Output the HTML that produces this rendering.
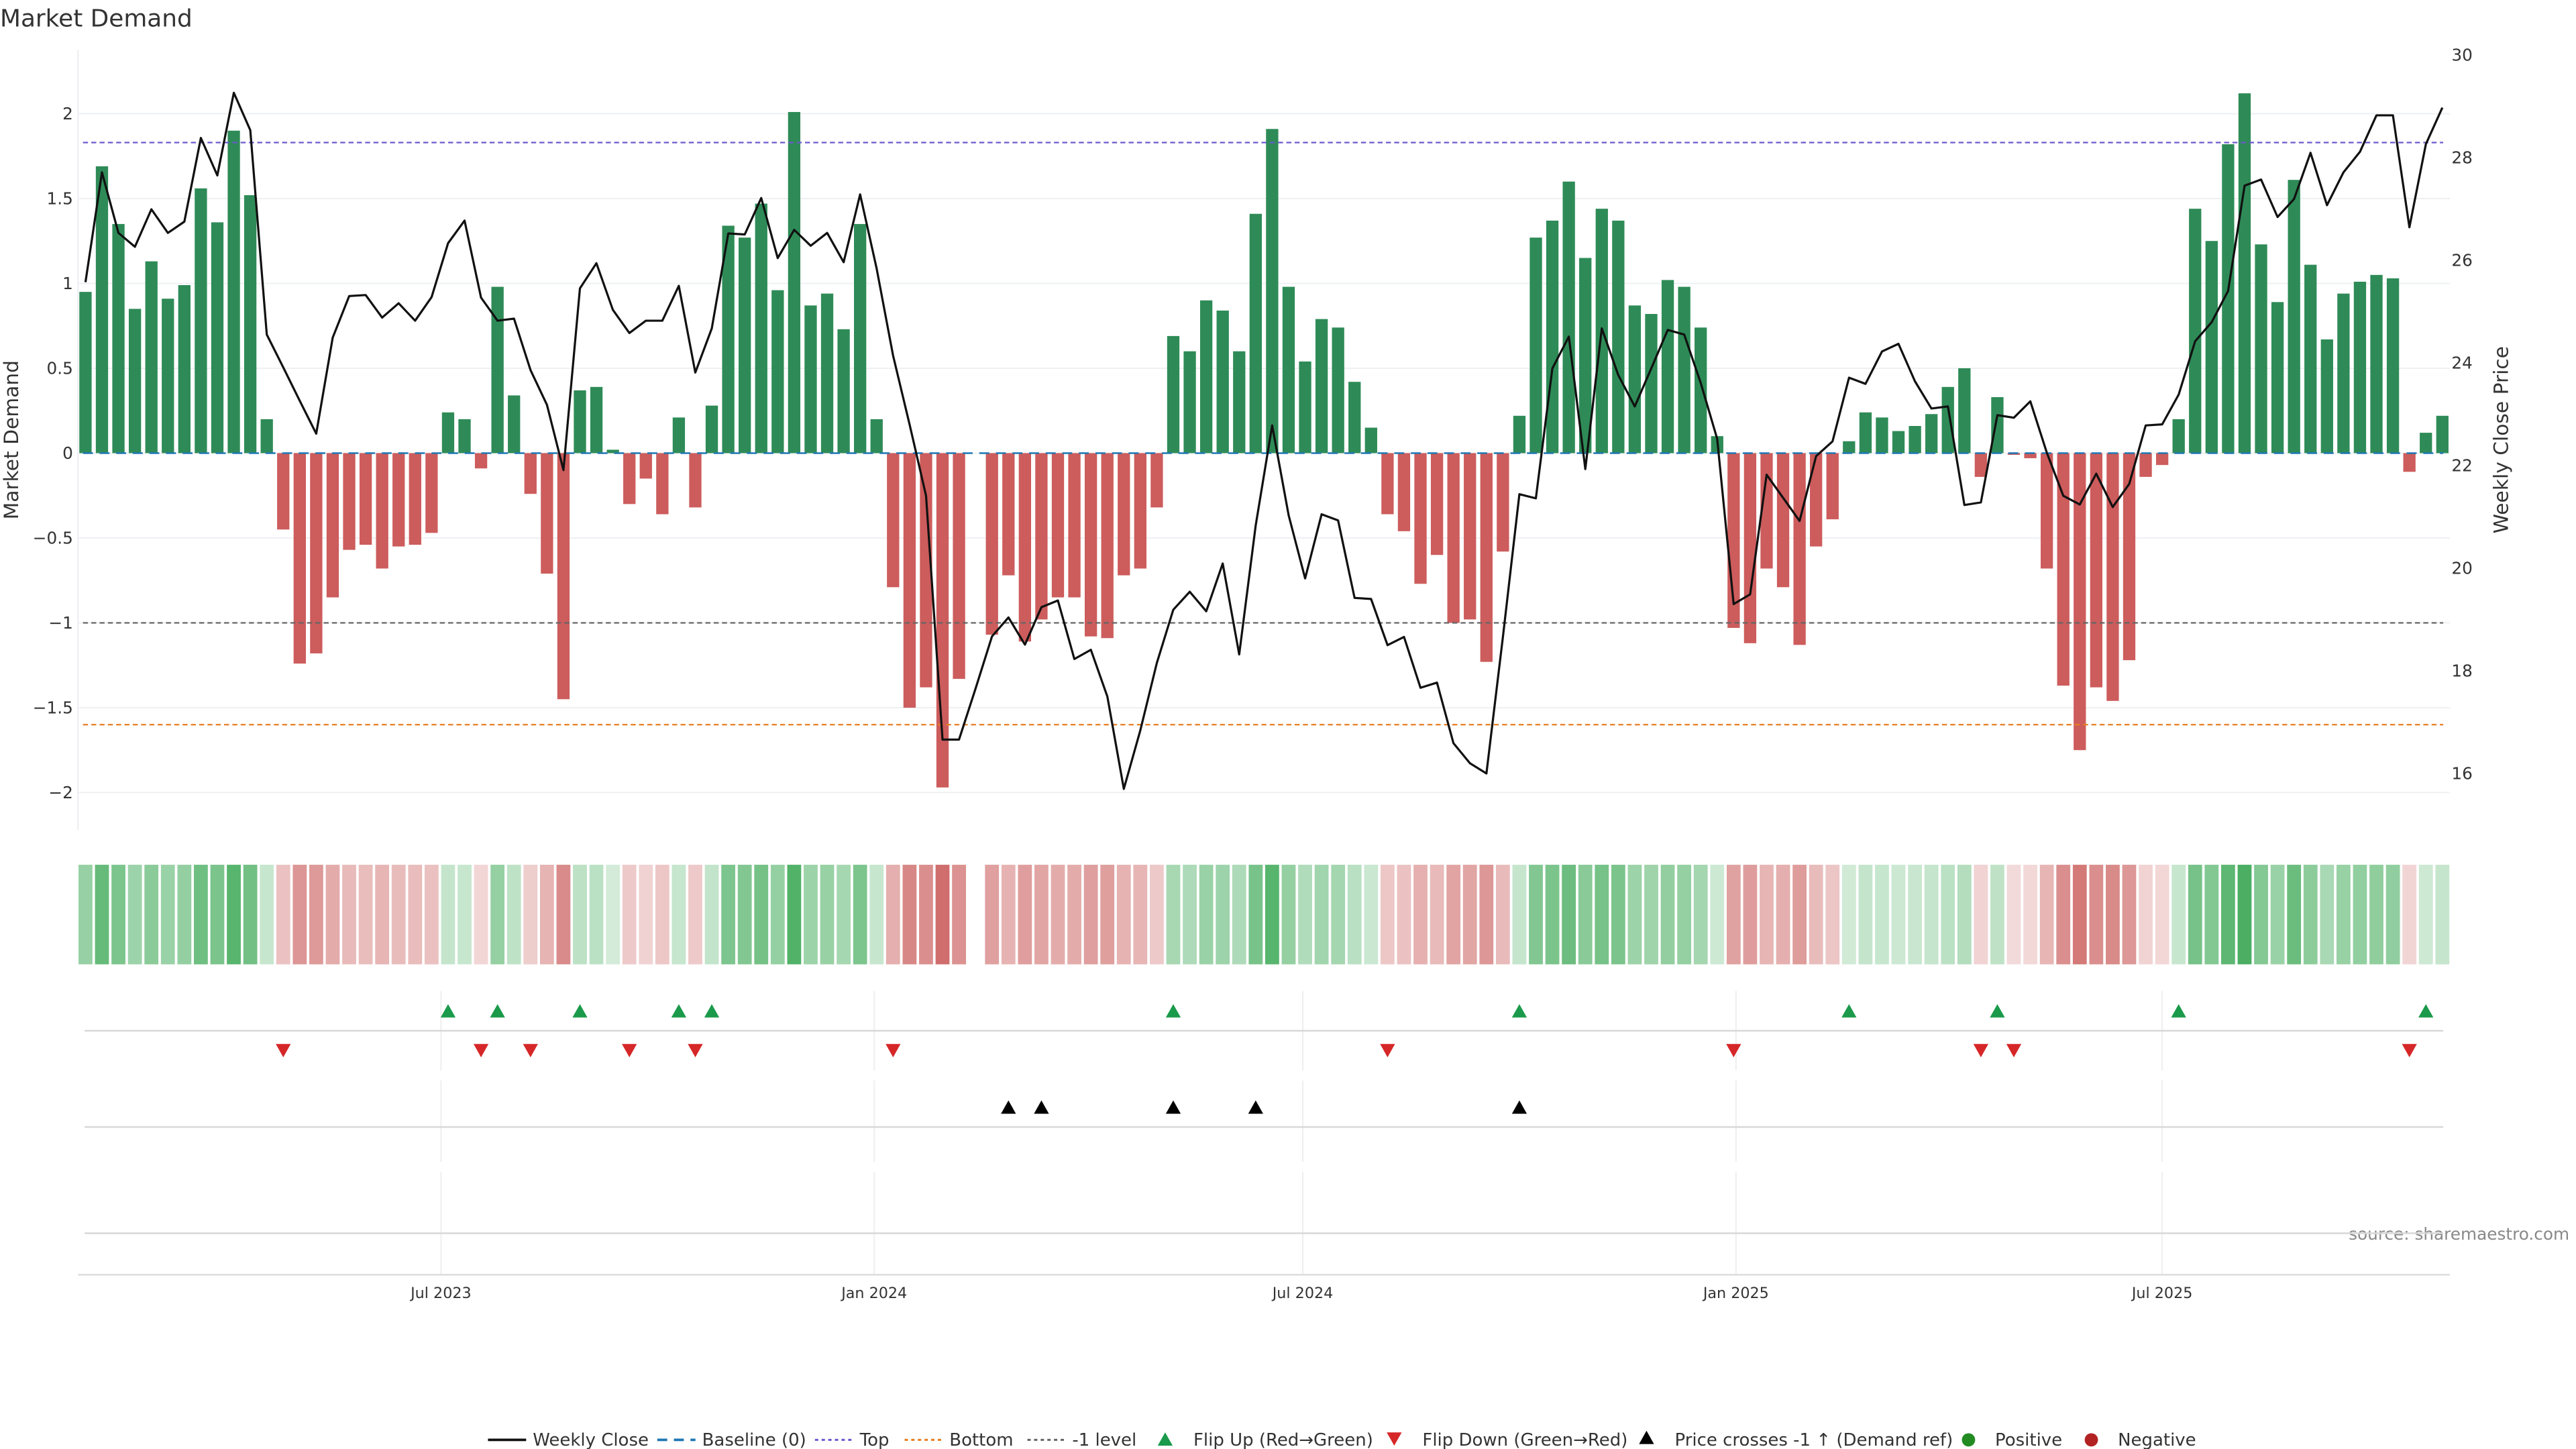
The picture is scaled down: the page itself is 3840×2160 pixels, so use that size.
<!DOCTYPE html>
<html><head><meta charset="utf-8"><title>Market Demand</title>
<style>
html,body{margin:0;padding:0;background:#fff;}
svg{display:block;font-family:"DejaVu Sans","Liberation Sans",sans-serif;}
</style></head>
<body>
<svg id="chart" width="3840" height="2160" viewBox="0 0 1552 873" xmlns="http://www.w3.org/2000/svg">
<text x="0" y="16" font-size="14.5" fill="#333">Market Demand</text>
<text transform="translate(11,265) rotate(-90)" text-anchor="middle" font-size="12" fill="#333">Market Demand</text>
<text transform="translate(1511,265) rotate(-90)" text-anchor="middle" font-size="12" fill="#333">Weekly Close Price</text>
<text x="1548" y="747" text-anchor="end" font-size="10" fill="#888">source: sharemaestro.com</text>
<g id="grid"></g><g id="heat"></g><g id="bars"></g><g id="refs"></g><g id="line"></g><g id="lanes"></g><g id="axes"></g><g id="legend"></g>
</svg>
<script>
const demand=[0.95,1.69,1.35,0.85,1.13,0.91,0.99,1.56,1.36,1.90,1.52,0.20,-0.45,-1.24,-1.18,-0.85,-0.57,-0.54,-0.68,-0.55,-0.54,-0.47,0.24,0.20,-0.09,0.98,0.34,-0.24,-0.71,-1.45,0.37,0.39,0.02,-0.30,-0.15,-0.36,0.21,-0.32,0.28,1.34,1.27,1.47,0.96,2.01,0.87,0.94,0.73,1.35,0.20,-0.79,-1.50,-1.38,-1.97,-1.33,null,-1.07,-0.72,-1.11,-0.98,-0.85,-0.85,-1.08,-1.09,-0.72,-0.68,-0.32,0.69,0.60,0.90,0.84,0.60,1.41,1.91,0.98,0.54,0.79,0.74,0.42,0.15,-0.36,-0.46,-0.77,-0.60,-1.00,-0.98,-1.23,-0.58,0.22,1.27,1.37,1.60,1.15,1.44,1.37,0.87,0.82,1.02,0.98,0.74,0.10,-1.03,-1.12,-0.68,-0.79,-1.13,-0.55,-0.39,0.07,0.24,0.21,0.13,0.16,0.23,0.39,0.50,-0.14,0.33,-0.01,-0.03,-0.68,-1.37,-1.75,-1.38,-1.46,-1.22,-0.14,-0.07,0.20,1.44,1.25,1.82,2.12,1.23,0.89,1.61,1.11,0.67,0.94,1.01,1.05,1.03,-0.11,0.12,0.22];
const close=[25.57,27.71,26.53,26.26,26.99,26.53,26.75,28.38,27.65,29.26,28.53,24.55,23.91,23.26,22.62,24.49,25.30,25.32,24.88,25.16,24.82,25.28,26.33,26.77,25.27,24.82,24.86,23.86,23.18,21.91,25.45,25.94,25.03,24.58,24.82,24.82,25.50,23.81,24.67,26.52,26.50,27.21,26.04,26.59,26.28,26.53,25.96,27.28,25.84,24.14,22.80,21.41,16.66,16.66,17.65,18.67,19.04,18.51,19.24,19.37,18.23,18.41,17.50,15.70,16.84,18.15,19.19,19.54,19.16,20.09,18.32,20.83,22.78,21.03,19.80,21.05,20.93,19.42,19.40,18.50,18.66,17.67,17.77,16.59,16.20,16.00,18.66,21.44,21.36,23.89,24.51,21.93,24.67,23.76,23.15,23.89,24.64,24.55,23.61,22.52,19.30,19.49,21.82,21.37,20.92,22.18,22.47,23.71,23.59,24.22,24.37,23.64,23.11,23.15,21.23,21.28,22.98,22.93,23.25,22.25,21.41,21.24,21.84,21.19,21.64,22.78,22.80,23.38,24.42,24.79,25.40,27.45,27.57,26.84,27.19,28.09,27.07,27.71,28.11,28.82,28.82,26.64,28.26,28.97];
const leftTicks=[2,1.5,1,0.5,0,-0.5,-1,-1.5,-2];
const leftTickLabels=["2","1.5","1","0.5","0","\u22120.5","\u22121","\u22121.5","\u22122"];
const rightTicks=[30,28,26,24,22,20,18,16];
const monthTicks=["2023-07-01","2024-01-01","2024-07-01","2025-01-01","2025-07-01"];
const monthLabels=["Jul 2023","Jan 2024","Jul 2024","Jan 2025","Jul 2025"];
const topLevel=1.83, bottomLevel=-1.60, minusOne=-1;
const startDate="2023-01-31";

const NS="http://www.w3.org/2000/svg";
function mk(parent,tag,attrs){const e=document.createElementNS(NS,tag);for(const k in attrs)e.setAttribute(k,attrs[k]);parent.appendChild(e);return e;}
const X0=51.5, STEP=9.93, L=47, R=1476;
const xi=i=>X0+i*STEP;
const yL=v=>273-v*102.25;
const yR=p=>33+(30-p)*30.93;
const xDate=d=>X0+(new Date(d)-new Date(startDate))/(7*864e5)*STEP;
const g=id=>document.getElementById(id);

// grid
leftTicks.forEach((t,k)=>{
  const l=mk(g('grid'),'line',{x1:L,x2:R,y1:yL(t),y2:yL(t),stroke:'#eef0f3','stroke-width':0.8});
  
  
  const tx=mk(g('axes'),'text',{x:44,y:yL(t)+3.5,'text-anchor':'end','font-size':10,fill:'#333'});
  tx.textContent=leftTickLabels[k];
  
  
});
rightTicks.forEach(t=>{
  const tx=mk(g('axes'),'text',{x:1477,y:yR(t)+3.5,'font-size':10,fill:'#333'});
  tx.textContent=String(t);
  
  
});
mk(g('axes'),'line',{x1:L,x2:L,y1:30,y2:500,stroke:'#eef0f3','stroke-width':1});
const ax=mk(g('axes'),'line',{x1:L,x2:R,y1:768,y2:768,stroke:'#ddd','stroke-width':1});


monthTicks.forEach((d,k)=>{
  const x=xDate(d);
  [[597,645],[651,700],[706,768]].forEach(([a,b])=>mk(g('grid'),'line',{x1:x,x2:x,y1:a,y2:b,stroke:'#eeeeee','stroke-width':0.8}));
  const tx=mk(g('axes'),'text',{x:x,y:782,'text-anchor':'middle','font-size':9,fill:'#333'});
  tx.textContent=monthLabels[k];
  
  
});

// bars + heatmap
demand.forEach((v,i)=>{
  if(v===null)return;
  const x=xi(i), y0=yL(0), y1=yL(v);
  const b=mk(g('bars'),'rect',{x:x-3.7,y:Math.min(y0,y1),width:7.4,height:Math.max(0.6,Math.abs(y1-y0)),fill:v>=0?'#2e8b57':'#cd5c5c'});
  
  
  const a=Math.min(1,0.22+0.7*Math.abs(v)/2.1);
  const c=mk(g('heat'),'rect',{x:x-4.2,y:521,width:8.4,height:60,fill:v>=0?'rgb(60,168,85)':'rgb(200,90,88)','fill-opacity':a});
  
  
});
// reference lines
[[yL(0),'#1f77b4','6,4',1,'baseline-line'],[yL(topLevel),'#6a5acd','3,2',0.9,'top-line'],[yL(bottomLevel),'#e67e22','3,2',0.9,'bottom-line'],[yL(minusOne),'#666','3,2',0.9,'minus-one-line']].forEach(r=>{
  const l=mk(g('refs'),'line',{x1:L+3,x2:R-4,y1:r[0],y2:r[0],stroke:r[1],'stroke-dasharray':r[2],'stroke-width':r[3]});
  
  
});
// price line
const pl=mk(g('line'),'polyline',{points:close.map((p,i)=>xi(i)+','+yR(p)).join(' '),fill:'none',stroke:'#111','stroke-width':1.3,'stroke-linejoin':'round'});



// lanes
[621,679,743].forEach(y=>{
  const l=mk(g('lanes'),'line',{x1:51,x2:1472,y1:y,y2:y,stroke:'#d8d8d8','stroke-width':1});
  
  
});
function tri(x,y,up,col,name){
  const p=up?`${x-4.5},${y+4} ${x+4.5},${y+4} ${x},${y-4}`:`${x-4.5},${y-4} ${x+4.5},${y-4} ${x},${y+4}`;
  const t=mk(g('lanes'),'polygon',{points:p,fill:col});
  
  
}
const crossLevel=18.94;
for(let i=1;i<demand.length;i++){
  let j=i-1; while(j>=0&&demand[j]===null)j--;
  const v=demand[i],pv=demand[j];
  if(v!==null&&pv!==null){
    if(v>0&&pv<0)tri(xi(i),609,true,'#1a9a4a','flip-up-marker');
    if(v<0&&pv>0)tri(xi(i),633,false,'#d62728','flip-down-marker');
  }
  if(close[i-1]<crossLevel&&close[i]>=crossLevel)tri(xi(i),667,true,'#000','price-cross-marker');
}

// legend
const lg=g('legend');
function ltext(x,s){const t=mk(lg,'text',{x:x,y:871,'font-size':10.5,fill:'#333'});t.textContent=s;}
function lline(x,col,dash,w){const l=mk(lg,'line',{x1:x,x2:x+23,y1:867.5,y2:867.5,stroke:col,'stroke-width':w});if(dash)l.setAttribute('stroke-dasharray',dash);}
lline(294,'#111','',1.5);ltext(321,'Weekly Close');
lline(396,'#1f77b4','6,4',1.5);ltext(423,'Baseline (0)');
lline(491,'#6a5acd','2,2',1.2);ltext(518,'Top');
lline(545,'#e67e22','2,2',1.2);ltext(572,'Bottom');
lline(619,'#666','2,2',1.2);ltext(646,'-1 level');
tri(702,867,true,'#1a9a4a','legend-flip-up');ltext(719,'Flip Up (Red\u2192Green)');
tri(840,867,false,'#d62728','legend-flip-down');ltext(857,'Flip Down (Green\u2192Red)');
tri(992,866,true,'#000','legend-price-cross');ltext(1009,'Price crosses -1 \u2191 (Demand ref)');
const c1=mk(lg,'circle',{cx:1186,cy:867.5,r:4,fill:'#228b22'});


ltext(1202,'Positive');
const c2=mk(lg,'circle',{cx:1260,cy:867.5,r:4,fill:'#b22222'});


ltext(1276,'Negative');
</script>
</body></html>
